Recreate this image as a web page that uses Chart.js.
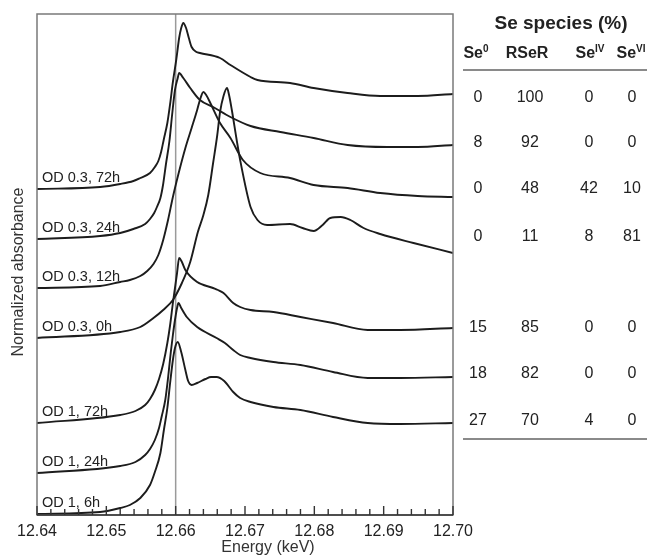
<!DOCTYPE html>
<html>
<head>
<meta charset="utf-8">
<script src="https://cdn.jsdelivr.net/npm/chart.js@4.4.1/dist/chart.umd.min.js"></script>
<style>
  body { margin: 0; background: #fff; font-family: "Liberation Sans", Arial, sans-serif; }
  #wrap { position: relative; width: 649px; height: 559px; }
  #chart { position: absolute; left: 0; top: 0; }
  .cell { position: absolute; transform: translate(-50%, -50%); color: #222; font-size: 16px; white-space: nowrap; }
  .head { font-weight: bold; }
  .head sup { font-size: 10px; vertical-align: 6px; line-height: 0; }
  .rule { position: absolute; height: 2px; background: #8a8a8a; }
</style>
</head>
<body>
<div id="wrap">
  <canvas id="chart" width="649" height="559"></canvas>
</div>
<script>
// Sample labels, top to bottom
const sampleLabels = ['OD 0.3, 72h', 'OD 0.3, 24h', 'OD 0.3, 12h', 'OD 0.3, 0h', 'OD 1, 72h', 'OD 1, 24h', 'OD 1, 6h'];

// Spectra (energy in keV, stacked normalized absorbance)
const od03h72Energy = [12.6400, 12.6491, 12.6520, 12.6539, 12.6549, 12.6563, 12.6570, 12.6575, 12.6579, 12.6583, 12.6588, 12.6592, 12.6596, 12.6601, 12.6605, 12.6608, 12.6611, 12.6615, 12.6619, 12.6623, 12.6630, 12.6635, 12.6664, 12.6679, 12.6708, 12.6718, 12.6765, 12.6799, 12.6848, 12.6895, 12.6949, 12.7000];
const od03h72Abs = [3.26, 3.28, 3.31, 3.34, 3.37, 3.42, 3.48, 3.54, 3.63, 3.76, 3.92, 4.11, 4.33, 4.56, 4.77, 4.87, 4.92, 4.87, 4.77, 4.68, 4.63, 4.62, 4.57, 4.50, 4.38, 4.35, 4.32, 4.27, 4.22, 4.19, 4.19, 4.21];

const od03h24Energy = [12.6400, 12.6491, 12.6520, 12.6539, 12.6556, 12.6563, 12.6569, 12.6573, 12.6578, 12.6582, 12.6586, 12.6591, 12.6595, 12.6599, 12.6603, 12.6605, 12.6611, 12.6621, 12.6635, 12.6654, 12.6679, 12.6708, 12.6751, 12.6799, 12.6848, 12.6905, 12.6949, 12.7000];
const od03h24Abs = [2.76, 2.79, 2.82, 2.86, 2.91, 2.96, 3.02, 3.08, 3.17, 3.31, 3.51, 3.74, 4.01, 4.25, 4.37, 4.42, 4.37, 4.27, 4.15, 4.08, 3.98, 3.89, 3.83, 3.77, 3.70, 3.68, 3.68, 3.70];

const od03h12Energy = [12.6400, 12.6491, 12.6520, 12.6534, 12.6549, 12.6559, 12.6568, 12.6575, 12.6582, 12.6589, 12.6596, 12.6604, 12.6614, 12.6623, 12.6631, 12.6635, 12.6640, 12.6644, 12.6650, 12.6664, 12.6679, 12.6697, 12.6722, 12.6765, 12.6799, 12.6848, 12.6895, 12.6949, 12.7000];
const od03h12Abs = [2.27, 2.29, 2.33, 2.35, 2.39, 2.44, 2.51, 2.60, 2.75, 2.95, 3.18, 3.41, 3.67, 3.87, 4.05, 4.15, 4.23, 4.20, 4.12, 3.92, 3.77, 3.55, 3.42, 3.37, 3.30, 3.27, 3.22, 3.19, 3.18];

const od03h0Energy = [12.6400, 12.6520, 12.6549, 12.6568, 12.6582, 12.6596, 12.6609, 12.6621, 12.6632, 12.6640, 12.6647, 12.6654, 12.6660, 12.6664, 12.6669, 12.6674, 12.6677, 12.6681, 12.6688, 12.6693, 12.6708, 12.6718, 12.6732, 12.6765, 12.6783, 12.6799, 12.6812, 12.6823, 12.6838, 12.6852, 12.6871, 12.6895, 12.6943, 12.7000];
const od03h0Abs = [1.77, 1.83, 1.88, 1.97, 2.05, 2.15, 2.32, 2.53, 2.83, 3.00, 3.20, 3.52, 3.80, 4.03, 4.19, 4.27, 4.20, 4.05, 3.75, 3.55, 3.08, 2.95, 2.90, 2.91, 2.87, 2.84, 2.90, 2.97, 2.98, 2.95, 2.87, 2.81, 2.72, 2.62];

const od1h72Energy = [12.6400, 12.6520, 12.6542, 12.6556, 12.6563, 12.6570, 12.6576, 12.6582, 12.6588, 12.6592, 12.6596, 12.6599, 12.6602, 12.6605, 12.6609, 12.6614, 12.6631, 12.6654, 12.6661, 12.6669, 12.6683, 12.6693, 12.6708, 12.6741, 12.6780, 12.6827, 12.6877, 12.6924, 12.7000];
const od1h72Abs = [0.92, 1.00, 1.04, 1.10, 1.16, 1.25, 1.36, 1.51, 1.72, 1.90, 2.12, 2.27, 2.42, 2.57, 2.53, 2.45, 2.33, 2.27, 2.25, 2.22, 2.12, 2.08, 2.05, 2.03, 1.98, 1.92, 1.85, 1.85, 1.87];

const od1h24Energy = [12.6400, 12.6520, 12.6542, 12.6556, 12.6563, 12.6570, 12.6576, 12.6580, 12.6585, 12.6589, 12.6593, 12.6596, 12.6599, 12.6602, 12.6604, 12.6608, 12.6616, 12.6631, 12.6659, 12.6671, 12.6683, 12.6693, 12.6708, 12.6741, 12.6780, 12.6827, 12.6877, 12.6924, 12.7000];
const od1h24Abs = [0.42, 0.49, 0.53, 0.60, 0.66, 0.75, 0.87, 0.99, 1.15, 1.37, 1.63, 1.80, 1.95, 2.07, 2.12, 2.07, 1.98, 1.88, 1.77, 1.72, 1.65, 1.60, 1.57, 1.53, 1.50, 1.43, 1.37, 1.37, 1.38];

const od1h6Energy = [12.6400, 12.6491, 12.6520, 12.6534, 12.6549, 12.6563, 12.6570, 12.6578, 12.6583, 12.6588, 12.6592, 12.6596, 12.6599, 12.6603, 12.6608, 12.6614, 12.6618, 12.6623, 12.6631, 12.6643, 12.6651, 12.6659, 12.6670, 12.6683, 12.6693, 12.6708, 12.6741, 12.6780, 12.6827, 12.6877, 12.6924, 12.7000];
const od1h6Abs = [0.01, 0.03, 0.07, 0.10, 0.17, 0.30, 0.43, 0.62, 0.85, 1.07, 1.32, 1.55, 1.67, 1.73, 1.63, 1.45, 1.34, 1.30, 1.32, 1.36, 1.38, 1.38, 1.34, 1.23, 1.17, 1.13, 1.08, 1.05, 0.98, 0.92, 0.91, 0.92];

// Axis
const energyTicks = [12.64, 12.65, 12.66, 12.67, 12.68, 12.69, 12.70];
const edgeMarker = 12.66;
const xTitle = 'Energy (keV)';
const yTitle = 'Normalized absorbance';

// Se species (%) table, rows in the same order as the spectra
const speciesHeaders = [['Se', '0'], ['RSeR', ''], ['Se', 'IV'], ['Se', 'VI']];
const speciesSe0 = [0, 8, 0, 0, 15, 18, 27];
const speciesRSeR = [100, 92, 48, 11, 85, 82, 70];
const speciesSeIV = [0, 0, 42, 8, 0, 0, 4];
const speciesSeVI = [0, 0, 10, 81, 0, 0, 0];

const spectra = [
    [od03h72Energy, od03h72Abs],
    [od03h24Energy, od03h24Abs],
    [od03h12Energy, od03h12Abs],
    [od03h0Energy, od03h0Abs],
    [od1h72Energy, od1h72Abs],
    [od1h24Energy, od1h24Abs],
    [od1h6Energy, od1h6Abs]
];

const FONT = '"Liberation Sans", Arial, sans-serif';

// Frame, inward ticks, reference line, axis titles and sample labels
const decorPlugin = {
    id: 'decor',
    beforeDatasetsDraw(chart) {
        const { ctx, chartArea } = chart;
        const px = chart.scales.x.getPixelForValue(edgeMarker);
        ctx.save();
        ctx.strokeStyle = '#9a9a9a';
        ctx.lineWidth = 1.5;
        ctx.beginPath();
        ctx.moveTo(px, chartArea.top);
        ctx.lineTo(px, chartArea.bottom);
        ctx.stroke();
        ctx.restore();
    },
    afterDraw(chart) {
        const { ctx, chartArea } = chart;
        const xs = chart.scales.x;
        const ys = chart.scales.y;
        ctx.save();

        // frame
        ctx.strokeStyle = '#7a7a7a';
        ctx.lineWidth = 1.5;
        ctx.strokeRect(chartArea.left, chartArea.top, chartArea.right - chartArea.left, chartArea.bottom - chartArea.top);
        ctx.strokeStyle = '#333';
        ctx.beginPath();
        ctx.moveTo(chartArea.left, chartArea.bottom);
        ctx.lineTo(chartArea.right, chartArea.bottom);
        ctx.stroke();

        // ticks pointing up into the plot
        ctx.lineWidth = 1.4;
        const step = 0.002;
        const n = Math.round((xs.max - xs.min) / step);
        for (let i = 0; i <= n; i++) {
            const x = xs.getPixelForValue(xs.min + i * step);
            const len = i % 5 === 0 ? 9 : 6;
            ctx.beginPath();
            ctx.moveTo(x, chartArea.bottom);
            ctx.lineTo(x, chartArea.bottom - len);
            ctx.stroke();
        }

        // axis titles
        ctx.fillStyle = '#333';
        ctx.font = '16px ' + FONT;
        ctx.textAlign = 'center';
        ctx.textBaseline = 'middle';
        ctx.fillText(xTitle, 268, 548);
        ctx.translate(19, 272);
        ctx.rotate(-Math.PI / 2);
        ctx.fillText(yTitle, 0, 0);
        ctx.setTransform(1, 0, 0, 1, 0, 0);

        // sample labels above each baseline
        ctx.fillStyle = '#222';
        ctx.font = '14.5px ' + FONT;
        ctx.textBaseline = 'alphabetic';
        ctx.textAlign = 'left';
        spectra.forEach((s, i) => {
            const y = ys.getPixelForValue(s[1][0]);
            ctx.fillText(sampleLabels[i], chartArea.left + 5, y - 7);
        });
        ctx.restore();
    }
};

const datasets = spectra.map((s, i) => ({
    label: sampleLabels[i],
    data: s[0].map((e, j) => ({ x: e, y: s[1][j] })),
    borderColor: '#1c1c1c',
    borderWidth: 1.9,
    pointRadius: 0,
    fill: false,
    cubicInterpolationMode: 'monotone'
}));

new Chart(document.getElementById('chart').getContext('2d'), {
    type: 'line',
    data: { datasets: datasets },
    options: {
        responsive: false,
        animation: false,
        layout: { padding: { left: 0, right: 196, top: 14, bottom: 0 } },
        plugins: { legend: { display: false }, tooltip: { enabled: false } },
        scales: {
            x: {
                type: 'linear',
                min: 12.64,
                max: 12.70,
                grid: { display: false, drawTicks: false },
                border: { display: false },
                afterBuildTicks: (scale) => { scale.ticks = energyTicks.map(v => ({ value: v })); },
                afterFit: (scale) => { scale.height = 44; },
                ticks: {
                    padding: 7,
                    color: '#222',
                    font: { family: FONT, size: 16 },
                    maxRotation: 0,
                    callback: (v) => Number(v).toFixed(2)
                }
            },
            y: {
                type: 'linear',
                min: 0,
                max: 5.01,
                grid: { display: false, drawTicks: false },
                border: { display: false },
                ticks: { display: false },
                afterFit: (scale) => { scale.width = 37; }
            }
        }
    },
    plugins: [decorPlugin]
});

// Table at the right of the plot
const wrap = document.getElementById('wrap');
const colX = [478, 530, 589, 632];
const headerX = [476, 527, 590, 631];
const rowY = [97, 142, 188, 236, 327, 373, 420];

function addCell(html, x, y, cls, size) {
    const el = document.createElement('div');
    el.className = 'cell' + (cls ? ' ' + cls : '');
    el.style.left = x + 'px';
    el.style.top = y + 'px';
    if (size) el.style.fontSize = size + 'px';
    el.innerHTML = html;
    wrap.appendChild(el);
}

function addRule(y) {
    const el = document.createElement('div');
    el.className = 'rule';
    el.style.left = '463px';
    el.style.width = '184px';
    el.style.top = y + 'px';
    wrap.appendChild(el);
}

addCell('Se species (%)', 561, 23, 'head', 19);
speciesHeaders.forEach((h, j) => {
    addCell(h[0] + (h[1] ? '<sup>' + h[1] + '</sup>' : ''), headerX[j], 53, 'head');
});
addRule(69);
const columns = [speciesSe0, speciesRSeR, speciesSeIV, speciesSeVI];
rowY.forEach((y, i) => {
    columns.forEach((col, j) => addCell(String(col[i]), colX[j], y));
});
addRule(438);
</script>
</body>
</html>
